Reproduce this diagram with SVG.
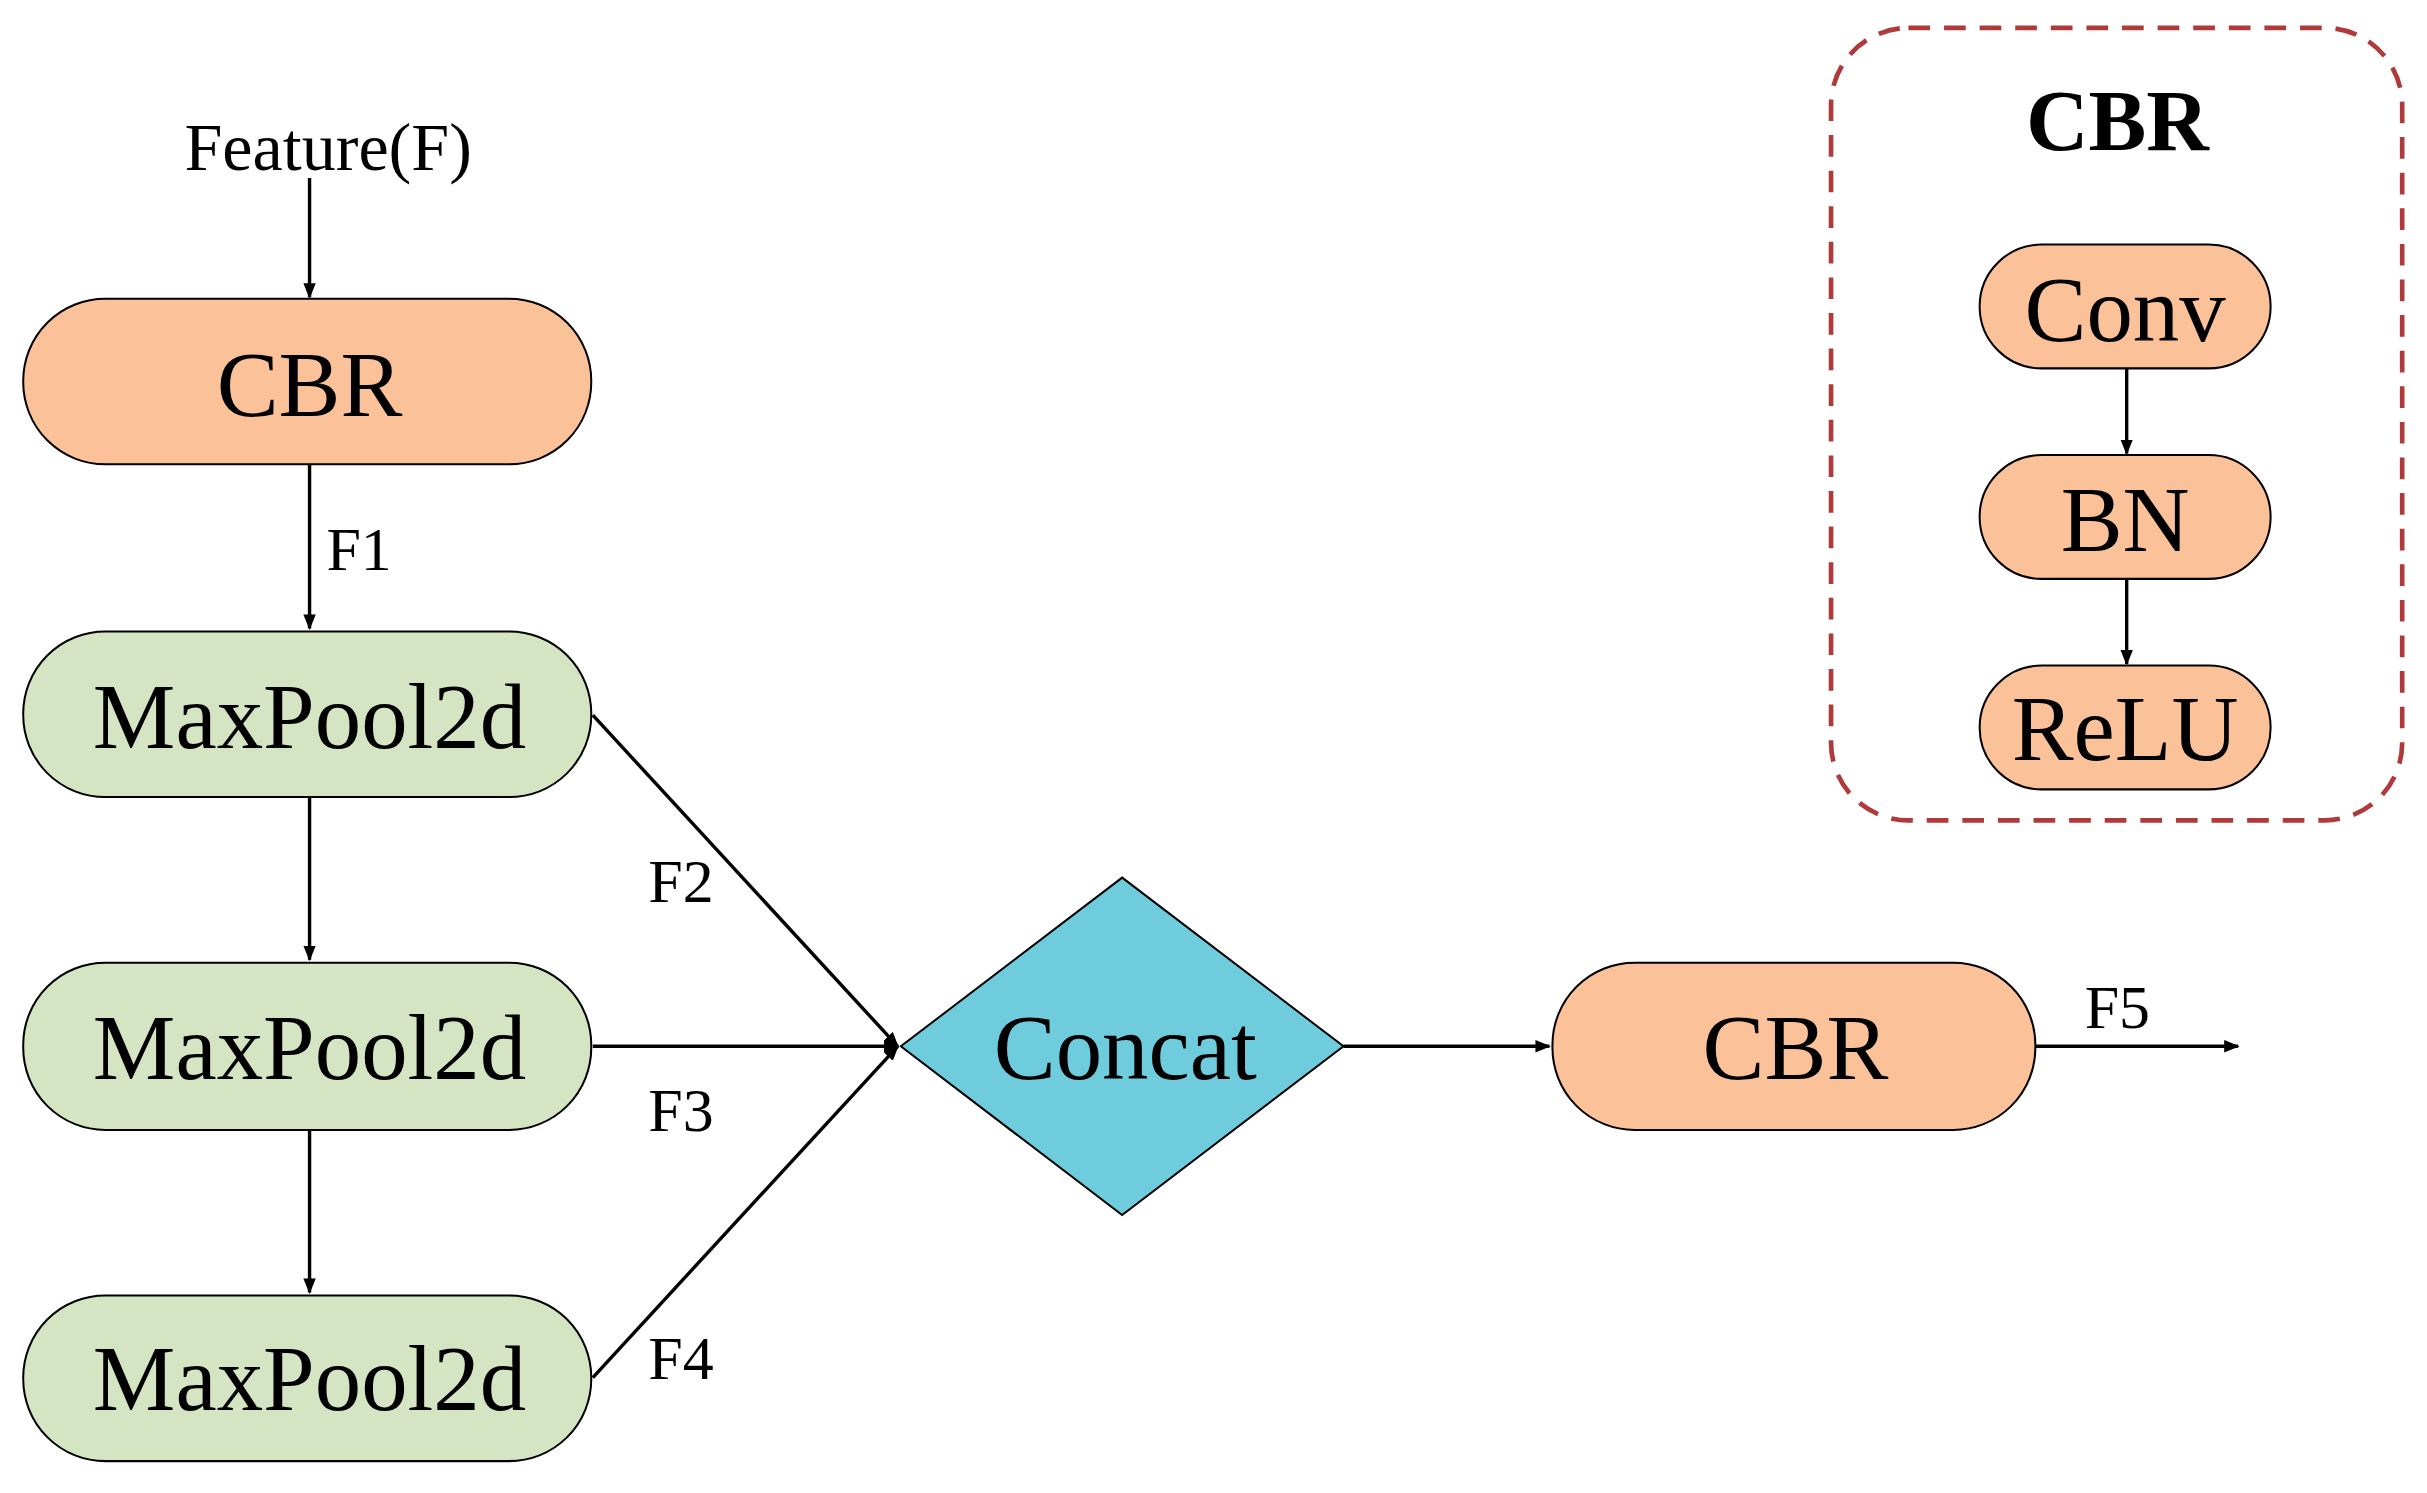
<svg xmlns="http://www.w3.org/2000/svg" width="2427" height="1493" viewBox="0 0 2427 1493">
<defs>
<marker id="ah" markerWidth="10" markerHeight="8" refX="9" refY="4" orient="auto" markerUnits="userSpaceOnUse"><path d="M0,0 L10,4 L0,8 Z" fill="#000"/></marker>
<style>
text{font-family:"Liberation Serif","Times New Roman",serif;text-anchor:middle;fill:#000}
.big{font-size:60px}
.sm{font-size:40px}
.or{fill:#FBC29A;stroke:#000;stroke-width:1.3}
.gr{fill:#D5E4C2;stroke:#000;stroke-width:1.3}
.ln{stroke:#000;stroke-width:2.2;fill:none}
</style>
</defs>
<rect width="2427" height="1493" fill="#fff"/>
<g transform="scale(1.5478)">
<g id="connectors">
<line class="ln" x1="200" y1="115" x2="200" y2="192" marker-end="url(#ah)"/>
<line class="ln" x1="200" y1="300" x2="200" y2="406" marker-end="url(#ah)"/>
<line class="ln" x1="200" y1="515" x2="200" y2="620" marker-end="url(#ah)"/>
<line class="ln" x1="200" y1="730" x2="200" y2="835" marker-end="url(#ah)"/>
<line class="ln" x1="383" y1="462" x2="580" y2="676" marker-end="url(#ah)"/>
<line class="ln" x1="383" y1="676" x2="580" y2="676" marker-end="url(#ah)"/>
<line class="ln" x1="383" y1="890" x2="580" y2="676" marker-end="url(#ah)"/>
<line class="ln" x1="868" y1="676" x2="1001" y2="676" marker-end="url(#ah)"/>
<line class="ln" x1="1315" y1="676" x2="1446" y2="676" marker-end="url(#ah)"/>
<line class="ln" x1="1374" y1="238" x2="1374" y2="293" marker-end="url(#ah)"/>
<line class="ln" x1="1374" y1="374" x2="1374" y2="429" marker-end="url(#ah)"/>
<text class="sm" x="232" y="368">F1</text>
<text class="sm" x="440" y="583">F2</text>
<text class="sm" x="440" y="731">F3</text>
<text class="sm" x="440" y="891">F4</text>
<text class="sm" x="1368" y="664">F5</text>
</g>
<g id="input"><text x="212" y="110" style="font-size:44px">Feature(F)</text></g>
<g id="cbr1"><rect class="or" x="15" y="193" width="367" height="107" rx="53"/><text class="big" x="200" y="269">CBR</text></g>
<g id="mp1"><rect class="gr" x="15" y="408" width="367" height="107" rx="53"/><text class="big" x="200" y="483">MaxPool2d</text></g>
<g id="mp2"><rect class="gr" x="15" y="622" width="367" height="108" rx="53"/><text class="big" x="200" y="697">MaxPool2d</text></g>
<g id="mp3"><rect class="gr" x="15" y="837" width="367" height="107" rx="53"/><text class="big" x="200" y="911">MaxPool2d</text></g>
<g id="concat"><polygon points="582,676 725,567 868,676 725,785" fill="#6ECCDC" stroke="#000" stroke-width="1.3"/><text class="big" x="727" y="697">Concat</text></g>
<g id="cbr2"><rect class="or" x="1003" y="622" width="312" height="108" rx="53"/><text class="big" x="1160" y="697">CBR</text></g>
<g id="legend">
<rect x="1183" y="18" width="369" height="512" rx="50" fill="none" stroke="#B03A3A" stroke-width="3" stroke-dasharray="14,9"/>
<text x="1368" y="97" style="font-size:56px;font-weight:bold">CBR</text>
<g id="conv"><rect class="or" x="1279" y="158" width="188" height="80" rx="40"/><text class="big" x="1373" y="220">Conv</text></g>
<g id="bn"><rect class="or" x="1279" y="294" width="188" height="80" rx="40"/><text class="big" x="1373" y="356">BN</text></g>
<g id="relu"><rect class="or" x="1279" y="430" width="188" height="80" rx="40"/><text class="big" x="1373" y="491">ReLU</text></g>
</g>
</g>
</svg>
